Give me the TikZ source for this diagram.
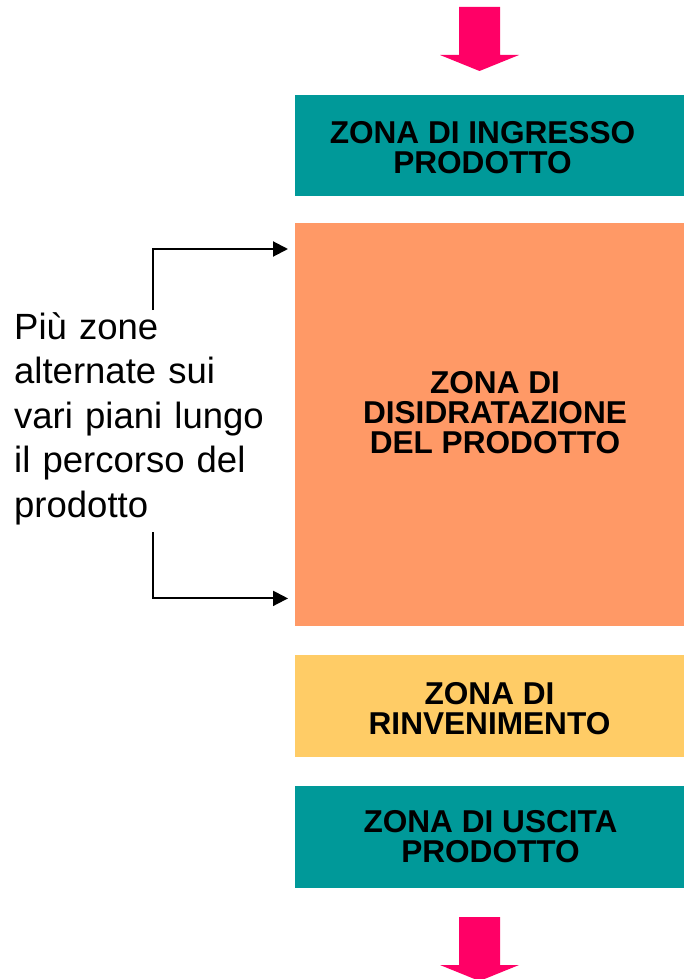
\documentclass[tikz,border=0pt]{standalone}
\usepackage{fontspec}
\setmainfont{Liberation Sans}
\usetikzlibrary{arrows.meta}
\definecolor{zteal}{RGB}{0,153,153}
\definecolor{zorange}{RGB}{255,153,102}
\definecolor{zyellow}{RGB}{255,204,102}
\definecolor{zpink}{RGB}{255,0,102}
\tikzset{
  zonebox/.style={draw=none, inner sep=0pt, minimum width=389pt, anchor=north west},
  zonetext/.style={inner sep=0pt, align=center, text=black,
    font=\fontsize{31.6}{30}\selectfont\bfseries},
  sidetext/.style={inner sep=0pt, align=left, text width=270pt, anchor=base west,
    font=\fontsize{36.5}{44.5}\selectfont},
  conn/.style={line width=2pt, -{Triangle[length=15pt,width=15pt]}, shorten >=7pt},
  flowarrow/.style={fill=zpink, draw=none}
}
\begin{document}
\begin{tikzpicture}[x=1pt, y=-1pt]
  \useasboundingbox (0,0) rectangle (684,979);
  \clip (0,0) rectangle (684,979);
  % zones
  \node[zonebox, fill=zteal, minimum height=101pt] (ingresso) at (295,95) {};
  \node[zonebox, fill=zorange, minimum height=403pt] (disidrat) at (295,223) {};
  \node[zonebox, fill=zyellow, minimum height=102pt] (rinven) at (295,655) {};
  \node[zonebox, fill=zteal, minimum height=102pt] (uscita) at (295,786) {};
  % zone texts
  \node[zonetext] (ingressoT) at (482.5,148) {ZONA DI INGRESSO\\PRODOTTO};
  \node[zonetext] (disidratT) at (495,412.3) {ZONA DI\\DISIDRATAZIONE\\DEL PRODOTTO};
  \node[zonetext] (rinvenT) at (489.5,708.3) {ZONA DI\\RINVENIMENTO};
  \node[zonetext] (uscitaT) at (490.5,837) {ZONA DI USCITA\\PRODOTTO};
  % side label
  \node[sidetext] (side) at (14,339) {Più zone\\alternate sui\\vari piani lungo\\il percorso del\\prodotto};
  % connectors
  \coordinate (s1) at (153,310);
  \coordinate (s2) at (153,532);
  \draw[conn] (s1) |- ([yshift=-26pt]disidrat.north west);
  \draw[conn] (s2) |- ([yshift=28pt]disidrat.south west);
  % flow arrows
  \fill[flowarrow] (459,7) -- (500,7) -- (500,55) -- (519,55) -- (479.5,71) -- (440,55) -- (459,55) -- cycle;
  \fill[flowarrow] (459,917) -- (500,917) -- (500,965) -- (519,965) -- (479.5,981) -- (440,965) -- (459,965) -- cycle;
\end{tikzpicture}
\end{document}
